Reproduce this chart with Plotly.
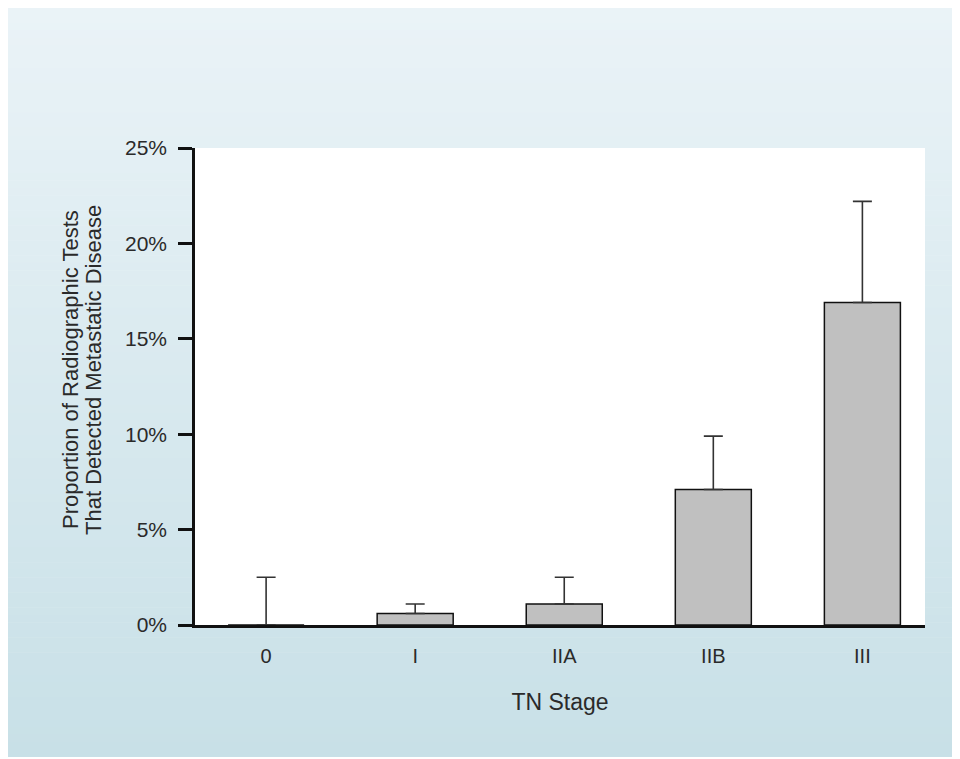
import plotly.graph_objects as go

stages = ["0", "I", "IIA", "IIB", "III"]
proportion = [0.0, 0.6, 1.1, 7.1, 16.9]
upper_limit = [2.5, 1.1, 2.5, 9.9, 22.2]
y_ticks = [0, 5, 10, 15, 20, 25]
y_ticktext = ["0%", "5%", "10%", "15%", "20%", "25%"]
y_title_lines = ["Proportion of Radiographic Tests", "That Detected Metastatic Disease"]
x_title = "TN Stage"

err_plus = [u - p for u, p in zip(upper_limit, proportion)]
xpos = list(range(len(stages)))

W, H = 960, 759
# the page body adds an 8px offset; layout is placed to compensate
OFF = 8
L, T, PW, PH = 195 - OFF, 148 - OFF, 730, 477
R, B = W - L - PW, H - T - PH


def fx(screen_x):
    """screen px -> paper (plot-area) fraction"""
    return (screen_x - OFF - L) / PW


def fy(screen_y):
    return (T + PH - (screen_y - OFF)) / PH


fig = go.Figure()
fig.add_trace(go.Bar(
    x=xpos, y=proportion, width=0.51,
    marker=dict(color="#c0c0c0", line=dict(color="#111111", width=1.5)),
    error_y=dict(type="data", symmetric=False, array=err_plus,
                 arrayminus=[0] * len(stages), color="#333333",
                 thickness=1.6, width=9.5),
    hoverinfo="skip",
))

# gradient background (banded rectangles), then white plot area
shapes = []
top_c = (234, 243, 247)
bot_c = (200, 224, 231)
gx0, gx1, gy0, gy1 = OFF, 959, OFF, 757
n = 100
for i in range(n):
    t = i / (n - 1)
    c = tuple(round(top_c[k] + (bot_c[k] - top_c[k]) * t) for k in range(3))
    ya = gy0 + (gy1 - gy0) * i / n
    yb = min(gy0 + (gy1 - gy0) * (i + 1) / n + 0.6, gy1)
    shapes.append(dict(type="rect", xref="paper", yref="paper",
                       x0=fx(gx0), x1=fx(gx1), y0=fy(yb), y1=fy(ya),
                       line=dict(width=0), fillcolor="rgb(%d,%d,%d)" % c,
                       layer="below"))
shapes.append(dict(type="rect", xref="paper", yref="paper", x0=0, x1=1,
                   y0=0, y1=1, line=dict(width=0), fillcolor="white",
                   layer="below"))

font = dict(family="Liberation Sans, Arial, sans-serif", color="#2a2a2a")

annotations = [
    dict(text=y_title_lines[0], xref="paper", yref="paper", x=fx(70), y=fy(370),
         textangle=-90, showarrow=False, xanchor="center", yanchor="middle",
         font=dict(size=22, **font)),
    dict(text=y_title_lines[1], xref="paper", yref="paper", x=fx(93), y=fy(370),
         textangle=-90, showarrow=False, xanchor="center", yanchor="middle",
         font=dict(size=22, **font)),
]

fig.update_layout(
    width=W, height=H,
    margin=dict(l=L, r=R, t=T, b=B),
    paper_bgcolor="white", plot_bgcolor="rgba(0,0,0,0)",
    showlegend=False, bargap=0.5,
    font=dict(size=20, **font),
    shapes=shapes, annotations=annotations,
)

fig.update_xaxes(
    range=[-0.477, 4.42], tickvals=xpos, ticktext=stages,
    showline=True, linecolor="#111111", linewidth=2.5,
    ticks="", showgrid=False, zeroline=False, ticklabelstandoff=11,
    tickfont=dict(size=20, **font),
    title=dict(text=x_title, font=dict(size=23, **font), standoff=29),
)
fig.update_yaxes(
    range=[0, 25], tickvals=y_ticks, ticktext=y_ticktext,
    showline=True, linecolor="#111111", linewidth=2.5,
    ticks="outside", ticklen=14, tickwidth=2.5, tickcolor="#111111",
    showgrid=False, zeroline=False, ticklabelstandoff=7,
    tickfont=dict(size=21, **font),
)

fig.write_html("out.html")
